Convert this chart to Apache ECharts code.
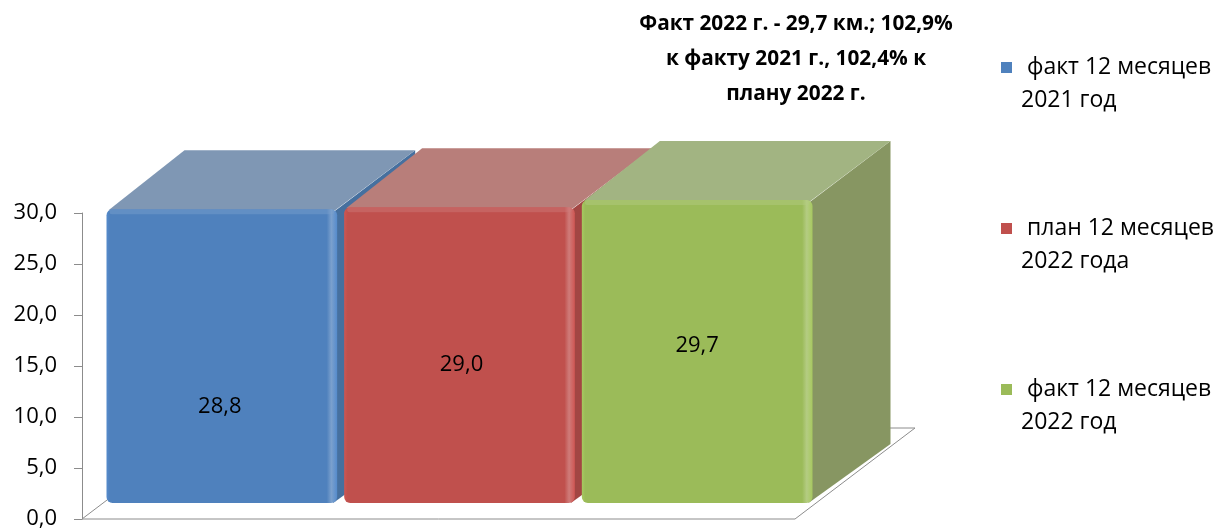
<!DOCTYPE html>
<html>
<head>
<meta charset="utf-8">
<script src="https://cdn.jsdelivr.net/npm/echarts@6/dist/echarts.min.js"></script>
<style>
  html, body { margin: 0; padding: 0; background: #fff; }
  #chart { width: 1218px; height: 531px; }
</style>
</head>
<body>
<div id="chart"></div>
<script>
const seriesNames = [
  "факт 12 месяцев\n2021 год",
  "план 12 месяцев\n2022 года",
  "факт 12 месяцев\n2022 год",
];
const values = [28.8, 29.0, 29.7];
const yMin = 0;
const yMax = 30;
const yStep = 5;
const titleText = "Факт 2022 г. - 29,7 км.; 102,9%\nк факту 2021 г., 102,4% к\nплану 2022 г.";

const frontColors = ["#4F81BD", "#C0504D", "#9BBB59"];
const topColors = ["#7F97B4", "#B87E7A", "#A2B482"];
const sideColors = ["#46709F", "#A24643", "#879662"];

// oblique projection offsets (px)
const FLOOR = [120, -91];
const FRONT = [21, -16];
const DEPTH = [78, -59];
const BAR_GAP = 7;
const labelShift = [[-2, 51], [2, 10], [0, -6]];
const FONT = "'Open Sans', 'Noto Sans', sans-serif";

const fmt = (v) => v.toFixed(1).replace(".", ",");

const chart = echarts.init(document.getElementById("chart"));

const renderFloor = (params, api) => {
  const cs = params.coordSys;
  const y0 = cs.y + cs.height;
  return {
    type: "polygon",
    silent: true,
    shape: {
      points: [
        [cs.x, y0],
        [cs.x + cs.width, y0],
        [cs.x + cs.width + FLOOR[0], y0 + FLOOR[1]],
        [cs.x + FLOOR[0], y0 + FLOOR[1]],
      ],
    },
    style: { fill: "#fff", stroke: "#8c8c8c", lineWidth: 1 },
  };
};

const makeBarRenderer = (idx) => (params, api) => {
  const cat = api.value(0);
  const v = api.value(1);
  const base = api.coord([cat, 0]);
  const top = api.coord([cat, v]);
  const band = api.size([1, 0])[0];
  const w = band - BAR_GAP;
  const x0 = base[0] - band / 2 + BAR_GAP / 2 + FRONT[0];
  const x1 = x0 + w;
  const yb = base[1] + FRONT[1];
  const yt = top[1] + FRONT[1];
  const front = frontColors[idx];
  const light = echarts.color.lift(front, 0.25);
  const dark = echarts.color.lift(front, -0.08);
  return {
    type: "group",
    children: [
      {
        type: "polygon",
        shape: {
          points: [
            [x1 - 4, yt + 3],
            [x1 + DEPTH[0], yt + DEPTH[1]],
            [x1 + DEPTH[0], yb + DEPTH[1]],
            [x1 - 4, yb],
          ],
        },
        style: { fill: sideColors[idx] },
      },
      {
        type: "polygon",
        shape: {
          points: [
            [x0 + 2, yt + 1],
            [x1 - 2, yt + 1],
            [x1 + DEPTH[0], yt + DEPTH[1]],
            [x0 + DEPTH[0], yt + DEPTH[1]],
          ],
        },
        style: { fill: topColors[idx] },
      },
      {
        type: "rect",
        shape: { x: x0, y: yt, width: w, height: yb - yt, r: 6 },
        style: {
          fill: new echarts.graphic.LinearGradient(0, 0, 1, 0, [
            { offset: 0, color: dark },
            { offset: 0.015, color: front },
            { offset: 0.955, color: front },
            { offset: 0.975, color: light },
            { offset: 1, color: dark },
          ]),
        },
      },
      {
        type: "rect",
        shape: { x: x0 + 3, y: yt, width: w - 6, height: 5, r: 3 },
        style: { fill: light, opacity: 0.45 },
      },
      {
        type: "text",
        style: {
          text: fmt(v),
          x: (x0 + x1) / 2 + labelShift[idx][0],
          y: (yt + yb) / 2 + labelShift[idx][1],
          align: "center",
          verticalAlign: "middle",
          fill: "#000",
          font: "22px " + FONT,
        },
      },
    ],
  };
};

const barSeries = seriesNames.map((name, i) => ({
  name: name,
  type: "custom",
  renderItem: makeBarRenderer(i),
  encode: { x: 0, y: 1 },
  itemStyle: { color: frontColors[i] },
  data: [[i, values[i]]],
  z: 3,
}));

const option = {
  animation: false,
  title: {
    text: titleText,
    left: 796,
    top: 7,
    padding: 0,
    textAlign: "center",
    textStyle: {
      fontFamily: FONT,
      fontSize: 20.8,
      fontWeight: "bold",
      lineHeight: 35,
      color: "#000",
    },
  },
  legend: {
    data: seriesNames,
    orient: "vertical",
    left: 1001,
    top: 18,
    padding: 0,
    itemGap: 62,
    itemWidth: 11,
    itemHeight: 11,
    icon: "rect",
    // blank first line keeps the icon level with the first text line
    formatter: (name) => "\n " + name,
    selectedMode: false,
    textStyle: {
      fontFamily: FONT,
      fontSize: 23,
      lineHeight: 33,
      color: "#000",
      padding: [0, 0, 0, 4],
    },
  },
  grid: { left: 82, top: 213, width: 713, height: 306 },
  xAxis: {
    type: "category",
    data: seriesNames,
    axisLine: { show: false },
    axisTick: { show: false },
    axisLabel: { show: false },
  },
  yAxis: {
    type: "value",
    min: yMin,
    max: yMax,
    interval: yStep,
    axisLine: { show: true, lineStyle: { color: "#8c8c8c", width: 1 } },
    axisTick: { show: true, length: 8, lineStyle: { color: "#8c8c8c" } },
    splitLine: { show: false },
    axisLabel: {
      margin: 25,
      color: "#000",
      fontFamily: FONT,
      fontSize: 22,
      formatter: (v) => fmt(v),
    },
  },
  series: [
    {
      name: "floor",
      type: "custom",
      silent: true,
      renderItem: renderFloor,
      data: [[0, 0]],
      z: 1,
    },
    ...barSeries,
  ],
};

chart.setOption(option);
window.addEventListener("resize", () => chart.resize());
</script>
</body>
</html>
